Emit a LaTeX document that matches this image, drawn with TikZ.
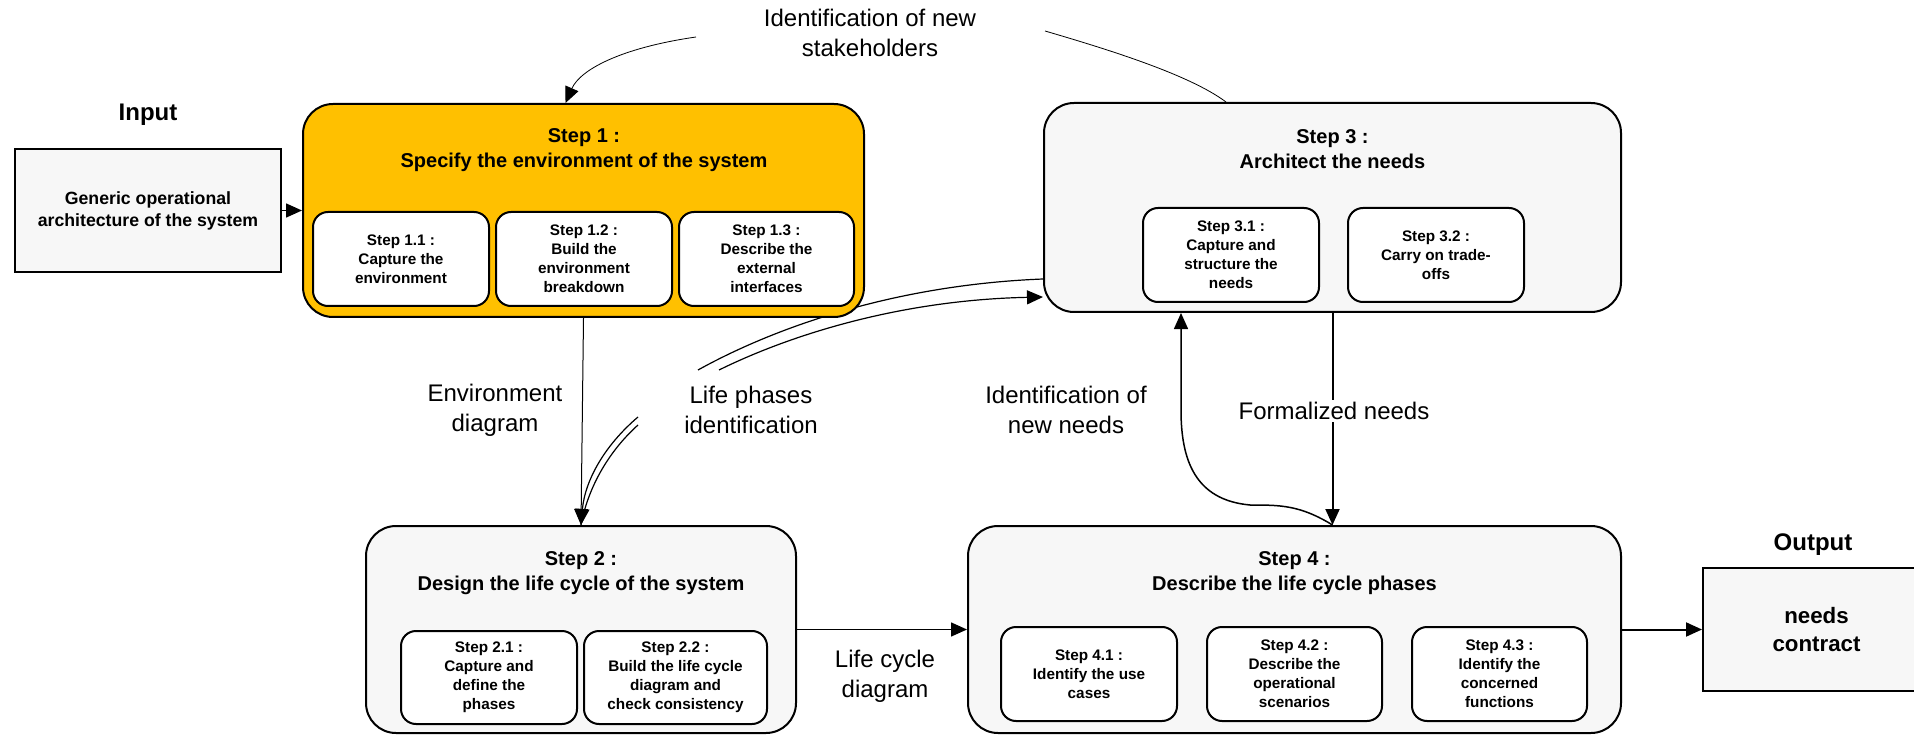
\documentclass[tikz,border=0pt]{standalone}
\usepackage{fontspec}
\setmainfont{Liberation Sans}
\usetikzlibrary{arrows.meta,backgrounds}
\definecolor{stepgray}{HTML}{F7F7F7}
\definecolor{steporange}{HTML}{FFC000}

\begin{document}
\begin{tikzpicture}[x=1pt, y=-1pt]
        \tikzstyle{stepbox} = [draw, line width=2pt, rounded corners=30pt, fill=stepgray, inner sep=0pt]
        \tikzstyle{substep} = [draw, line width=2pt, rounded corners=15pt, fill=white, align=center, inner sep=0pt, minimum width=176pt, minimum height=94pt, font=\bfseries\fontsize{15.3}{19}\selectfont]
        \tikzstyle{steptitle} = [align=center, font=\bfseries\fontsize{20}{25}\selectfont]
        \tikzstyle{iobox} = [draw, line width=2pt, fill=stepgray, minimum height=123pt, align=center]
        \tikzstyle{lbl} = [align=center, font=\fontsize{24}{30}\selectfont]
        \tikzstyle{link} = [-{Triangle[length=16pt,width=14pt]}]
        \useasboundingbox (0,0) rectangle (1914,735);

        % input / output
        \node (inlbl) [font=\bfseries\fontsize{24}{30}\selectfont] at (148,115) {Input};
        \node (inp) [iobox, minimum width=266pt, font=\bfseries\fontsize{17.7}{22}\selectfont] at (148,210.5) {Generic operational\\architecture of the system};
        \node (outlbl) [font=\bfseries\fontsize{24}{30}\selectfont] at (1813,545) {Output};
        \node (outp) [iobox, minimum width=227pt, font=\bfseries\fontsize{22.3}{28}\selectfont] at (1816.5,629.5) {needs\\contract};

        % step 1
        \node (st1) [stepbox, fill=steporange, minimum width=561pt, minimum height=213pt] at (583.5,210.5) {};
        \node (t1) [steptitle] at (584,150.5) {Step 1 :\\Specify the environment of the system};
        \node (s11) [substep] at (401,259) {Step 1.1 :\\Capture the\\environment};
        \node (s12) [substep] at (584,259) {Step 1.2 :\\Build the\\environment\\breakdown};
        \node (s13) [substep, minimum width=175pt] at (766.5,259) {Step 1.3 :\\Describe the\\external\\interfaces};

        % step 3
        \node (st3) [stepbox, minimum width=577pt, minimum height=209pt] at (1332.5,207.5) {};
        \node (t3) [steptitle] at (1332.5,149.5) {Step 3 :\\Architect the needs};
        \node (s31) [substep] at (1231,255) {Step 3.1 :\\Capture and\\structure the\\needs};
        \node (s32) [substep] at (1436,255) {Step 3.2 :\\Carry on trade-\\offs};

        % step 2
        \node (st2) [stepbox, minimum width=430pt, minimum height=207pt] at (581,629.5) {};
        \node (t2) [steptitle] at (581,573.5) {Step 2 :\\Design the life cycle of the system};
        \node (s21) [substep, minimum height=93pt] at (489,677.5) {Step 2.1 :\\Capture and\\define the\\phases};
        \node (s22) [substep, minimum width=183pt, minimum height=93pt] at (675.5,677.5) {Step 2.2 :\\Build the life cycle\\diagram and\\check consistency};

        % step 4
        \node (st4) [stepbox, minimum width=653pt, minimum height=207pt] at (1294.5,629.5) {};
        \node (t4) [steptitle] at (1294.5,573) {Step 4 :\\Describe the life cycle phases};
        \node (s41) [substep] at (1089,674) {Step 4.1 :\\Identify the use\\cases};
        \node (s42) [substep, minimum width=175pt] at (1294.5,674) {Step 4.2 :\\Describe the\\operational\\scenarios};
        \node (s43) [substep, minimum width=175pt] at (1499.5,674) {Step 4.3 :\\Identify the\\concerned\\functions};

        % free labels
        \node (stklbl) [lbl] at (870,33) {Identification of new\\stakeholders};
        \node (envlbl) [lbl] at (495,410) {Environment\\diagram};
        \node (lplbl) [lbl] at (751,410) {Life phases\\identification};
        \node (nnlbl) [lbl] at (1066,410) {Identification of\\new needs};
        \node (lclbl) [lbl] at (885,676) {Life cycle\\diagram};

        \coordinate (stkl) at (696,37);
        \coordinate (stkr) at (1045,31);
        \coordinate (lpa) at (698,370);
        \coordinate (lpb) at (719,370);
        \coordinate (lpc) at (638,417);
        \coordinate (lpd) at (638,425);

        \draw[link, line width=1.5pt] (inp) -- (st1);
        \draw[link, line width=0.8pt] (stkl) .. controls (620,48) and (580,70) .. ([xshift=-18pt]st1.north);
        \draw[line width=0.8pt] (stkr) .. controls (1110,50) and (1190,75) .. ([xshift=-106.5pt]st3.north);
        \draw[link, line width=1pt] (st1.south) -- (st2.north);
        \begin{pgfonlayer}{background}
            \draw[line width=1.2pt] (lpa) .. controls (770,330) and (890,285) .. ([yshift=-71.5pt]st3.west);
        \end{pgfonlayer}
        \draw[link, line width=1.2pt] (lpb) .. controls (790,335) and (900,300) .. ([yshift=-89.5pt]st3.west);
        \draw[link, line width=1.2pt] (lpc) .. controls (605,445) and (585,480) .. (st2.north);
        \draw[line width=1.2pt] (lpd) .. controls (608,452) and (588,488) .. (st2.north);
        \draw[link, line width=1.5pt] (st3.south |- st4.north) .. controls (1300,505) and (1280,505) .. (1250,505)
            .. controls (1195,500) and (1181,460) .. (1181,410) -- ([xshift=-151.5pt]st3.south);
        \draw[link, line width=2pt] (st3.south) -- (st3.south |- st4.north);
        \node (fnlbl) [lbl, fill=white, inner sep=2pt] at (1334,411) {Formalized needs};
        \draw[link, line width=1.5pt] (st2) -- (st4);
        \draw[link, line width=2pt] (st4) -- (outp);
    \end{tikzpicture}
\end{document}
